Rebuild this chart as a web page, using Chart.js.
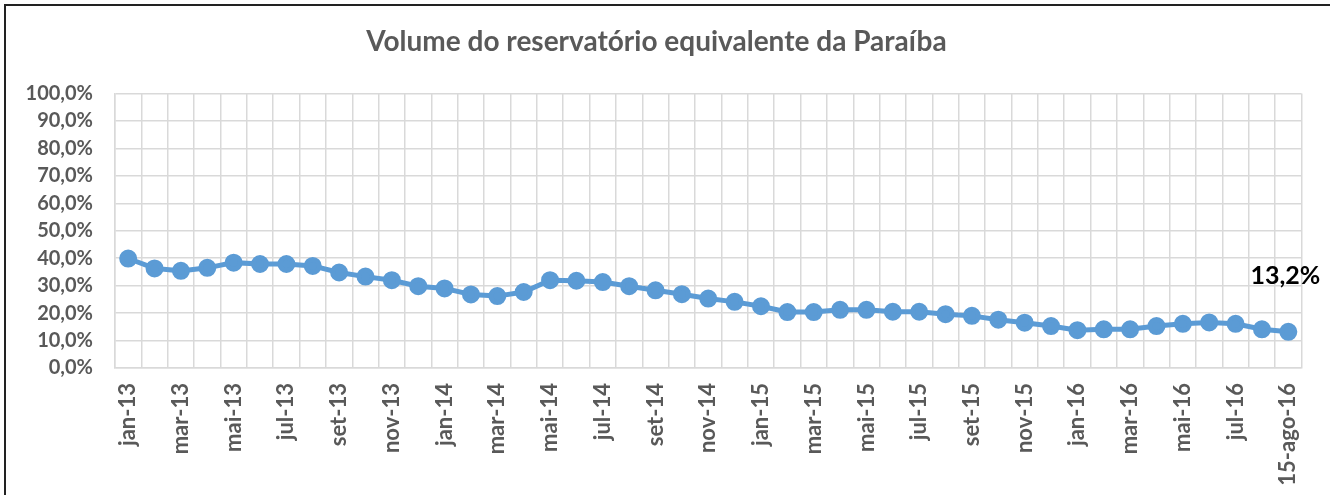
<!DOCTYPE html>
<html>
<head>
<meta charset="utf-8">
<script src="https://cdn.jsdelivr.net/npm/chart.js@4.4.1/dist/chart.umd.min.js"></script>
<style>
  body { margin: 0; background: #fff; }
  canvas { display: block; }
</style>
</head>
<body>
<canvas id="ReservoirChart" width="1330" height="495"></canvas>
<script>
// months from jan-13 to ago-16, last point is 15-ago-16
var months = ['jan', 'fev', 'mar', 'abr', 'mai', 'jun', 'jul', 'ago', 'set', 'out', 'nov', 'dez'];
var labels = [];
for (var y = 13; y <= 16; y++) {
    for (var m = 0; m < 12; m++) {
        if (y === 16 && m > 7) break;
        labels.push(months[m] + '-' + y);
    }
}
labels.push('15-ago-16');

// volume (%)
var volume = [
    39.9, 36.3, 35.4, 36.5, 38.4, 37.9, 37.9, 37.2, 34.8, 33.3, 32.0, 29.8,
    29.0, 26.8, 26.2, 27.7, 32.0, 31.8, 31.3, 29.8, 28.3, 26.9, 25.3, 24.1,
    22.5, 20.4, 20.4, 21.2, 21.2, 20.5, 20.5, 19.6, 19.0, 17.6, 16.5, 15.3,
    13.8, 14.1, 14.1, 15.3, 16.1, 16.6, 16.1, 14.1, 13.2
];

var yTicks = [0, 10, 20, 30, 40, 50, 60, 70, 80, 90, 100];

function pct(v) {
    return v.toFixed(1).replace('.', ',') + '%';
}

var frame = {
    id: 'frame',
    beforeDraw: function (chart) {
        var c = chart.ctx;
        c.save();
        c.fillStyle = '#fff';
        c.fillRect(0, 0, chart.width, chart.height);
        c.strokeStyle = '#222';
        c.lineWidth = 2;
        c.beginPath();
        c.moveTo(5, chart.height);
        c.lineTo(5, 5);
        c.lineTo(chart.width, 5);
        c.stroke();
        c.restore();
    }
};

// label on the last point only
var lastLabel = {
    id: 'lastLabel',
    afterDatasetsDraw: function (chart) {
        var meta = chart.getDatasetMeta(0);
        var i = volume.length - 1;
        var pt = meta.data[i];
        var c = chart.ctx;
        c.save();
        c.font = 'bold 25px Lato';
        c.fillStyle = '#000';
        c.textAlign = 'center';
        c.textBaseline = 'middle';
        c.fillText(pct(volume[i]), pt.x - 3, pt.y - 56);
        c.restore();
    }
};

var ctx = document.getElementById('ReservoirChart').getContext('2d');
Chart.defaults.font.family = 'Lato';
var chart = new Chart(ctx, {
    type: 'line',
    plugins: [frame, lastLabel],
    data: {
        labels: labels,
        datasets: [{
            data: volume,
            borderColor: '#5b9bd5',
            backgroundColor: '#5b9bd5',
            borderWidth: 5,
            pointRadius: 6.5,
            pointHoverRadius: 6.5,
            tension: 0
        }]
    },
    options: {
        responsive: false,
        animation: false,
        layout: { padding: { left: 8, right: 25, top: 0, bottom: 0 } },
        plugins: {
            legend: { display: false },
            tooltip: { enabled: false },
            title: {
                display: true,
                text: 'Volume do reservatório equivalente da Paraíba',
                color: '#595959',
                font: { size: 28, weight: 'bold' },
                padding: { top: 25, bottom: 35 }
            }
        },
        scales: {
            x: {
                offset: true,
                grid: { offset: true, color: '#d9d9d9', lineWidth: 1.5, drawTicks: false },
                border: { color: '#d9d9d9', width: 1.5 },
                ticks: {
                    autoSkip: false,
                    maxRotation: 90,
                    minRotation: 90,
                    padding: 15,
                    color: '#595959',
                    font: { size: 22, weight: 'bold' },
                    callback: function (val, idx) {
                        return idx % 2 === 0 ? labels[idx] : '';
                    }
                },
                afterFit: function (scale) { scale.height = 127; }
            },
            y: {
                min: 0,
                max: 100,
                afterBuildTicks: function (scale) {
                    scale.ticks = yTicks.map(function (v) { return { value: v }; });
                },
                grid: { color: '#d9d9d9', lineWidth: 1.5, drawTicks: false },
                border: { color: '#d9d9d9', width: 1.5 },
                ticks: {
                    autoSkip: false,
                    padding: 22,
                    color: '#595959',
                    font: { size: 20, weight: 'bold' },
                    callback: function (v) { return pct(v); }
                },
                afterFit: function (scale) { scale.width = 107; }
            }
        }
    }
});
</script>
</body>
</html>
